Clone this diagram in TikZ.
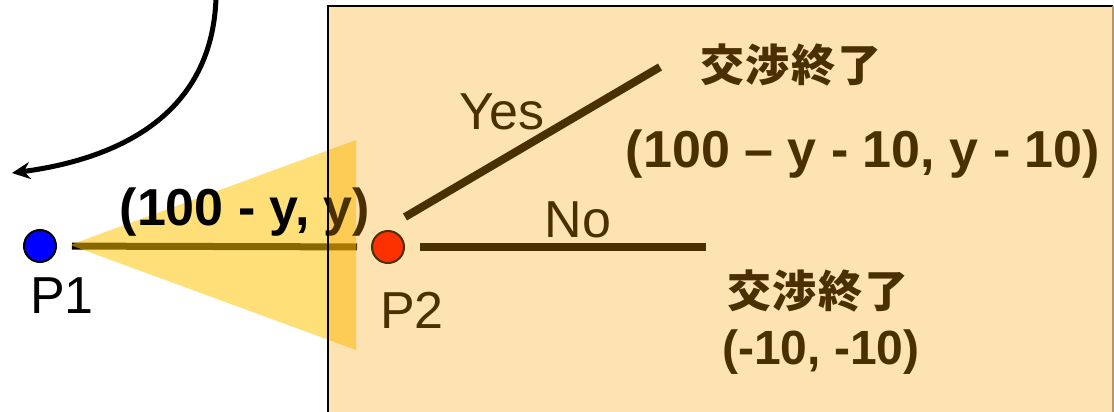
\documentclass[tikz,border=0pt]{standalone}
\usepackage{fontspec}
\setmainfont{Liberation Sans}
\newfontfamily\cjk{Noto Sans CJK JP}[LetterSpace=4]
\usetikzlibrary{arrows.meta}
\definecolor{boxorange}{RGB}{247,160,0}
\definecolor{triyellow}{RGB}{255,196,0}
\definecolor{p1blue}{RGB}{0,0,255}
\definecolor{p2red}{RGB}{255,0,0}
\tikzset{
  big/.style={font=\fontsize{52}{60}\selectfont\bfseries, inner sep=0pt},
  reg/.style={font=\fontsize{52}{60}\selectfont, inner sep=0pt},
  jp/.style={font=\fontsize{44}{50}\selectfont\cjk\bfseries, inner sep=0pt},
  dot/.style={circle, draw=black, line width=2pt, minimum size=32pt, inner sep=0pt},
  branch/.style={line width=8pt, draw=black},
}
\begin{document}
\begin{tikzpicture}[x=1pt,y=-1pt]
\useasboundingbox (0,0) rectangle (1114,412);
\clip (0,0) rectangle (1114,412);
% curved arrow
\coordinate (arrS) at (216,-2);
\coordinate (arrE) at (12,173);
\draw[line width=5pt, -{Stealth[length=18pt,width=17pt]}] (arrS) .. controls (212,120) and (110,160) .. (arrE);
% nodes
\node[dot, fill=p1blue] (p1) at (40,246) {};
\node[dot, fill=p2red] (p2) at (388,247) {};
% P1-P2 line
\draw[line width=7pt, shorten <=15pt, shorten >=14pt] (p1) -- (p2);
% triangle
\coordinate (triA) at (70,245);
\coordinate (triB) at (356,140);
\coordinate (triC) at (356,350);
\fill[triyellow, opacity=0.53] (triA) -- (triB) -- (triC) -- cycle;
% labels
\node[reg] (lp1) at (62,296) {P1};
\node[reg] (lp2) at (412,310) {P2};
\node[big] (pay1) at (245,212) {(100 - y, y)};
% branches
\coordinate (yesS) at (405,217);
\coordinate (yesE) at (660,67);
\coordinate (noE) at (706,247);
\draw[branch] (yesS) -- (yesE);
\draw[branch, shorten <=15pt] (p2.east) -- (noE);
\node[reg] (yes) at (502,112) {Yes};
\node[reg] (no) at (578,220) {No};
\node[jp, anchor=west] (end1) at (700,65) {交渉終了};
\node[big] (pay2) at (863,154) {(100 – y - 10, y - 10)};
\node[jp, anchor=west] (end2) at (727,291) {交渉終了};
\node[font=\fontsize{48}{56}\selectfont\bfseries, inner sep=0pt, anchor=west] (pay3) at (722,352) {(-10, -10)};
% translucent box
\fill[boxorange, opacity=0.3] (328,6) rectangle (1113,430);
\draw[line width=2pt] (1113,6) -- (328,6) -- (328,430);
\draw[line width=2pt, draw={rgb,255:red,180;green,150;blue,110}] (1113,6) -- (1113,430);
\end{tikzpicture}
\end{document}
